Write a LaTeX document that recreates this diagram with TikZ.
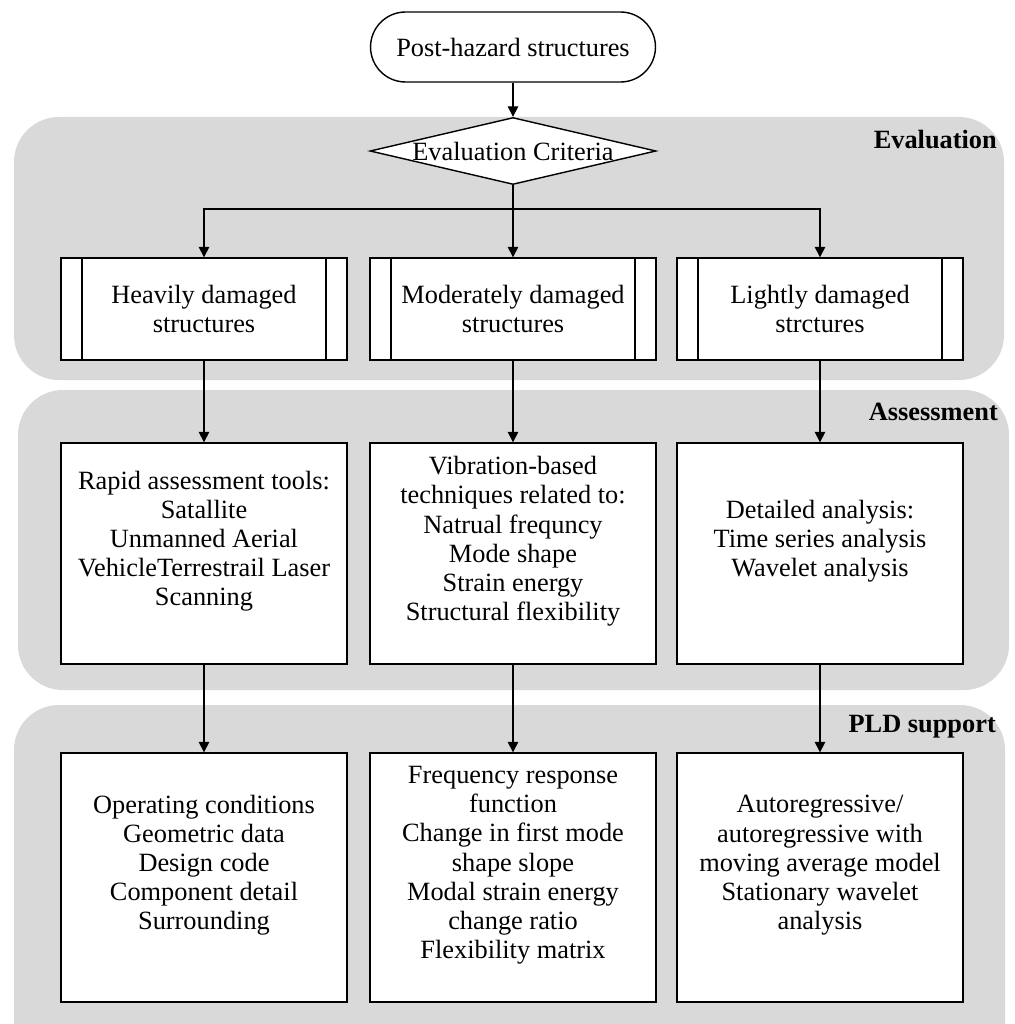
\documentclass[tikz,border=0pt]{standalone}
\usepackage{fontspec}
\setmainfont{Liberation Serif}
\usetikzlibrary{shapes.geometric,arrows.meta}
\begin{document}
\begin{tikzpicture} [x=0.02cm, y=-0.02cm, font=\fontsize{15}{16.6}\selectfont,
  panel/.style={fill=black!15, rounded corners=0.9cm},
  lab/.style={anchor=east, font=\fontsize{15}{16.6}\selectfont\bfseries},
  box/.style={draw, thick, fill=white, minimum width=5.72cm, align=center, inner sep=0pt},
  tall/.style={box, text depth=0.6cm},
  proc/.style={box, minimum height=2.04cm,
    path picture={\draw[thick] ([xshift=0.42cm]path picture bounding box.north west) -- ([xshift=0.42cm]path picture bounding box.south west);
      \draw[thick] ([xshift=-0.42cm]path picture bounding box.north east) -- ([xshift=-0.42cm]path picture bounding box.south east);}},
  flow/.style={thick, -{Triangle[length=6pt, width=6pt]}}]
\useasboundingbox (0,0) rectangle (1014,1024);
\clip (0,0) rectangle (1014,1024);
\fill[panel] (14,117) rectangle (1004,380);
\fill[panel] (18,390) rectangle (1009,690);
\fill[panel] (14,705) rectangle (1005,1070);
\node[lab] (evallab) at (1003,140) {Evaluation};
\node[lab] (assesslab) at (1004,412) {Assessment};
\node[lab] (pldlab) at (1002,727) {PLD support};
\node[box, rounded corners=0.7cm, minimum width=5.7cm, minimum height=1.4cm] (start) at (513,47) {Post-hazard structures};
\node[draw, thick, fill=white, diamond, inner sep=0pt, minimum width=5.72cm, minimum height=1.34cm, label=center:Evaluation Criteria] (crit) at (513,151) {};
\node[proc] (heavy) at (204,309) {Heavily damaged\\structures};
\node[proc] (moder) at (513,309) {Moderately damaged\\structures};
\node[proc] (light) at (820,309) {Lightly damaged\\strctures};
\node[tall, minimum height=4.42cm] (rapid) at (204,553.5) {Rapid assessment tools:\\Satallite\\Unmanned Aerial\\VehicleTerrestrail Laser\\Scanning};
\node[tall, minimum height=4.42cm] (vibr) at (513,553.5) {Vibration-based\\techniques related to:\\Natrual frequncy\\Mode shape\\Strain energy\\Structural flexibility};
\node[tall, minimum height=4.42cm] (detail) at (820,553.5) {Detailed analysis:\\Time series analysis\\Wavelet analysis};
\node[tall, minimum height=4.98cm] (oper) at (204,877.5) {Operating conditions\\Geometric data\\Design code\\Component detail\\Surrounding};
\node[tall, minimum height=4.98cm] (freq) at (513,877.5) {Frequency response\\function\\Change in first mode\\shape slope\\Modal strain energy\\change ratio\\Flexibility matrix};
\node[tall, minimum height=4.98cm] (auto) at (820,877.5) {Autoregressive/\\autoregressive with\\moving average model\\Stationary wavelet\\analysis};
\coordinate (split) at (513,209);
\draw[flow] (start) -- (crit);
\draw[thick] (crit) -- (split);
\draw[flow] (split) -- (moder);
\draw[flow] (split) -| (heavy);
\draw[flow] (split) -| (light);
\draw[flow] (heavy) -- (rapid);
\draw[flow] (moder) -- (vibr);
\draw[flow] (light) -- (detail);
\draw[flow] (rapid) -- (oper);
\draw[flow] (vibr) -- (freq);
\draw[flow] (detail) -- (auto);
\end{tikzpicture}
\end{document}
